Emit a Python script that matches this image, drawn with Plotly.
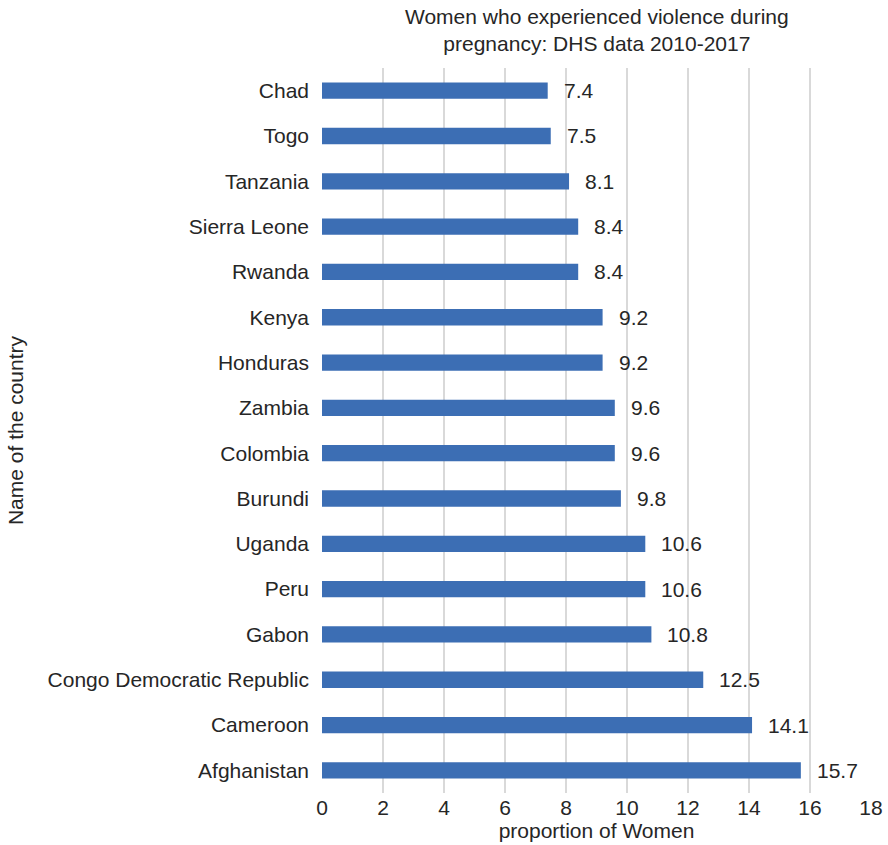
import plotly.graph_objects as go

countries = ["Chad", "Togo", "Tanzania", "Sierra Leone", "Rwanda", "Kenya", "Honduras",
             "Zambia", "Colombia", "Burundi", "Uganda", "Peru", "Gabon",
             "Congo Democratic Republic", "Cameroon", "Afghanistan"]
values = [7.4, 7.5, 8.1, 8.4, 8.4, 9.2, 9.2, 9.6, 9.6, 9.8, 10.6, 10.6, 10.8, 12.5, 14.1, 15.7]
x_ticks = [0, 2, 4, 6, 8, 10, 12, 14, 16, 18]

FONT = "Liberation Sans, Arial, Helvetica, sans-serif"
TXT = "#262626"
FS = 21

fig = go.Figure()
fig.add_trace(go.Bar(
    x=values, y=countries, orientation="h",
    marker=dict(color="#3c6eb4", line=dict(width=0)),
    width=0.36, hoverinfo="x+y",
))

for c, v in zip(countries, values):
    fig.add_annotation(x=v, y=c, text=f"{v:.1f}", showarrow=False,
                       xanchor="left", yanchor="middle", xshift=14,
                       font=dict(size=FS, color=TXT, family=FONT))

# chart title (two lines) placed above the plot area
fig.add_annotation(xref="paper", yref="paper", x=0.5, y=1 + (68 - 3) / 725,
                   xanchor="center", yanchor="top", showarrow=False,
                   text="Women who experienced violence during<br>pregnancy: DHS data 2010-2017",
                   font=dict(size=21, color=TXT, family=FONT))

fig.update_layout(
    width=888, height=845,
    margin=dict(l=322, r=17, t=68, b=52, autoexpand=False),
    paper_bgcolor="white", plot_bgcolor="white",
    showlegend=False,
    font=dict(family=FONT, size=FS, color=TXT),
    xaxis=dict(range=[0, 18], tickvals=x_ticks, showgrid=True, gridcolor="#d9d9d9",
               gridwidth=2, zeroline=False, showline=False, ticks="",
               tickfont=dict(size=FS, color=TXT), automargin=False,
               title=dict(text="proportion of Women", font=dict(size=FS, color=TXT), standoff=2)),
    yaxis=dict(categoryorder="array", categoryarray=countries, autorange="reversed",
               showgrid=False, zeroline=False, showline=False, ticks="",
               ticklabelstandoff=12, tickfont=dict(size=FS, color=TXT), automargin=False,
               title=dict(text="Name of the country", font=dict(size=FS, color=TXT), standoff=18)),
    bargap=0.6,
)

fig.write_html("out.html")
